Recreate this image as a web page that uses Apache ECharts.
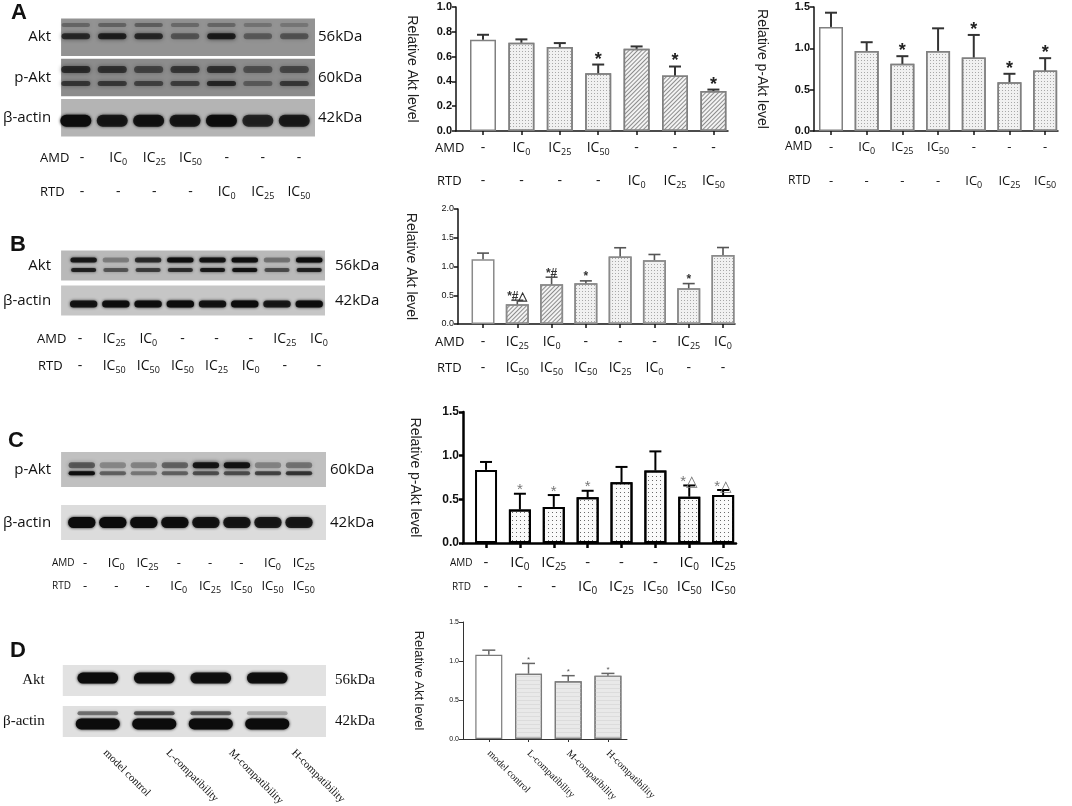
<!DOCTYPE html>
<html>
<head>
<meta charset="utf-8">
<script src="https://cdn.jsdelivr.net/npm/echarts@6/dist/echarts.min.js"></script>
<style>
  html, body { margin: 0; padding: 0; background: #fff; }
  #chart-container { width: 1072px; height: 806px; }
</style>
</head>
<body>
<div id="chart-container"></div>
<script>
// ---------- data ----------
// panel A (7 groups)
var amdA = ['-', 'IC0', 'IC25', 'IC50', '-', '-', '-'];
var rtdA = ['-', '-', '-', '-', 'IC0', 'IC25', 'IC50'];
var aktA = [0.736, 0.712, 0.677, 0.466, 0.663, 0.447, 0.323];
var aktAErr = [0.040, 0.027, 0.032, 0.070, 0.019, 0.073, 0.011];
var aktAMarks = ['', '', '', '*', '', '*', '*'];
var aktAFills = ['open', 'dot', 'dot', 'dot', 'hatch', 'hatch', 'hatch'];
var paktA = [1.259, 0.969, 0.812, 0.969, 0.889, 0.591, 0.732];
var paktAErr = [0.172, 0.105, 0.093, 0.273, 0.273, 0.101, 0.149];
var paktAMarks = ['', '', '*', '', '*', '*', '*'];
var paktAFills = ['open', 'dot', 'dot', 'dot', 'dot', 'dot', 'dot'];
var stripsA = ['Akt', 'p-Akt', 'β-actin'];
var kdaA = ['56kDa', '60kDa', '42kDa'];
var bandA_aktUpper = [0.30, 0.32, 0.35, 0.28, 0.30, 0.22, 0.20];
var bandA_aktMain = [0.70, 0.78, 0.72, 0.42, 0.82, 0.38, 0.42];
var bandA_paktUpper = [0.68, 0.62, 0.50, 0.58, 0.62, 0.42, 0.48];
var bandA_paktLower = [0.60, 0.58, 0.52, 0.55, 0.72, 0.35, 0.58];
var bandA_actin = [1.00, 0.85, 0.90, 0.85, 0.95, 0.75, 0.82];

// panel B (8 groups)
var amdB = ['-', 'IC25', 'IC0', '-', '-', '-', 'IC25', 'IC0'];
var rtdB = ['-', 'IC50', 'IC50', 'IC50', 'IC25', 'IC0', '-', '-'];
var aktB = [1.128, 0.343, 0.692, 0.709, 1.174, 1.110, 0.622, 1.200];
var aktBErr = [0.105, 0.070, 0.122, 0.041, 0.152, 0.099, 0.081, 0.130];
var aktBMarks = ['', '*#△', '*#', '*', '', '', '*', ''];
var aktBFills = ['open', 'hatch', 'hatch', 'dot', 'dot', 'dot', 'dot', 'dot'];
var stripsB = ['Akt', 'β-actin'];
var kdaB = ['56kDa', '42kDa'];
var bandB_aktUpper = [0.85, 0.30, 0.72, 0.95, 0.90, 0.95, 0.35, 1.00];
var bandB_aktLower = [0.80, 0.50, 0.62, 0.70, 0.85, 0.92, 0.55, 0.80];
var bandB_actin = [0.90, 0.95, 0.95, 1.00, 0.90, 1.00, 0.85, 0.95];

// panel C (8 groups)
var amdC = ['-', 'IC0', 'IC25', '-', '-', '-', 'IC0', 'IC25'];
var rtdC = ['-', '-', '-', 'IC0', 'IC25', 'IC50', 'IC50', 'IC50'];
var paktC = [0.837, 0.383, 0.413, 0.523, 0.697, 0.830, 0.530, 0.549];
var paktCErr = [0.091, 0.181, 0.136, 0.075, 0.174, 0.219, 0.129, 0.058];
var paktCMarks = ['', '*', '*', '*', '', '', '*△', '*△'];
var paktCFills = ['open', 'dot', 'dot', 'dot', 'dot', 'dot', 'dot', 'dot'];
var stripsC = ['p-Akt', 'β-actin'];
var kdaC = ['60kDa', '42kDa'];
var bandC_paktUpper = [0.50, 0.28, 0.30, 0.45, 0.90, 0.92, 0.30, 0.38];
var bandC_paktLower = [0.95, 0.45, 0.35, 0.45, 0.55, 0.55, 0.60, 0.68];
var bandC_actin = [1.00, 1.00, 0.98, 0.95, 0.90, 0.88, 0.85, 0.85];

// panel D (4 groups)
var groupsD = ['model control', 'L-compatibility', 'M-compatibility', 'H-compatibility'];
var aktD = [1.079, 0.837, 0.739, 0.812];
var aktDErr = [0.060, 0.132, 0.073, 0.029];
var aktDMarks = ['', '*', '*', '*'];
var aktDFills = ['open', 'light', 'light', 'light'];
var stripsD = ['Akt', 'β-actin'];
var kdaD = ['56kDa', '42kDa'];
var bandD_akt = [1.00, 0.95, 0.92, 0.95];
var bandD_actinUpper = [0.45, 0.60, 0.55, 0.25];
var bandD_actinLower = [1.00, 1.00, 1.00, 1.00];

// ---------- builders ----------
var chartDom = document.getElementById('chart-container');
var myChart = echarts.init(chartDom);
var grids = [], xAxes = [], yAxes = [], series = [], graphics = [];

var SANS = '"Liberation Sans", Arial, sans-serif';
var CAL = '"Open Sans", "Noto Sans", sans-serif';
var SERIF = '"Liberation Serif", "Times New Roman", serif';

function icRich(size, sub, family) {
  return {
    b: { fontSize: size, fontFamily: family, color: '#111', lineHeight: size + 4 },
    s: { fontSize: sub, fontFamily: family, color: '#111', lineHeight: sub + 1, verticalAlign: 'bottom' }
  };
}
function icText(label) {
  var m = /^IC(\d+)$/.exec(label);
  return m ? '{b|IC}{s|' + m[1] + '}' : '{b|' + label + '}';
}
function addText(text, x, y, font, align) {
  graphics.push({
    type: 'text', x: x, y: y, silent: true,
    style: { text: text, font: font, fill: '#111', align: align || 'left', verticalAlign: 'middle',
      textAlign: align || 'left', textVerticalAlign: 'middle' }
  });
}

function addBlot(cfg) {
  var gi = grids.length;
  grids.push({ left: cfg.left, top: cfg.top, width: cfg.width, height: cfg.height });
  var xi = xAxes.length;
  xAxes.push({ gridIndex: gi, type: 'value', min: cfg.min, max: cfg.max, show: false });
  var yi = yAxes.length;
  var lab = { fontSize: cfg.font, fontFamily: cfg.family, color: '#111' };
  yAxes.push({ gridIndex: gi, type: 'category', inverse: true, data: cfg.strips,
    axisLine: { show: false }, axisTick: { show: false },
    axisLabel: Object.assign({ margin: cfg.leftMargin }, lab) });
  yAxes.push({ gridIndex: gi, type: 'category', inverse: true, position: 'right', data: cfg.kda,
    axisLine: { show: false }, axisTick: { show: false },
    axisLabel: Object.assign({ margin: cfg.rightMargin }, lab) });
  series.push({
    type: 'custom', xAxisIndex: xi, yAxisIndex: yi, silent: true,
    data: cfg.strips.map(function (s, k) { return [0, k]; }),
    renderItem: function (params, api) {
      var k = api.value(1);
      var c = api.coord([0, k]);
      var cs = params.coordSys;
      var h = cfg.stripHeight;
      return { type: 'rect', shape: { x: cs.x, y: c[1] - h / 2, width: cs.width, height: h },
        style: { fill: cfg.stripColors[k] } };
    }
  });
  cfg.bands.forEach(function (b) {
    series.push({
      type: 'custom', xAxisIndex: xi, yAxisIndex: yi, silent: true,
      data: b.values.map(function (v, i) { return [i, b.strip, v]; }),
      renderItem: function (params, api) {
        var c = api.coord([api.value(0), api.value(1)]);
        var band = api.size([0, 1])[1];
        var lane = api.size([1, 0])[0];
        var w = lane * b.w, h = b.h;
        var y = c[1] + b.dy * band;
        var col = 'rgba(12,12,12,' + api.value(2) + ')';
        return { type: 'rect', shape: { x: c[0] - w / 2, y: y - h / 2, width: w, height: h, r: h / 2 },
          style: { fill: col, shadowBlur: b.blur, shadowColor: col } };
      }
    });
  });
}

function addLaneLabels(cfg) {
  var gi = grids.length;
  var y0 = cfg.rows[0].y - 1;
  grids.push({ left: cfg.left, top: y0 - 1, width: cfg.width, height: 1 });
  yAxes.push({ gridIndex: gi, type: 'value', show: false });
  cfg.rows.forEach(function (row) {
    xAxes.push({ gridIndex: gi, type: 'category', data: row.labels, position: 'bottom',
      axisLine: { show: false }, axisTick: { show: false }, splitLine: { show: false },
      axisLabel: { interval: 0, margin: row.y - y0, verticalAlign: 'middle', rotate: cfg.rotate || 0,
        formatter: icText, rich: cfg.rich } });
  });
}

function fillStyle(kind, cfg) {
  var s = { color: '#fff', borderColor: cfg.barBorder, borderWidth: cfg.barBorderWidth };
  if (kind === 'dot') {
    s.color = cfg.dotBg;
    s.decal = { symbol: 'rect', symbolSize: 1, dashArrayX: [1, cfg.dotGap], dashArrayY: [1, cfg.dotGap], color: cfg.dotColor };
  } else if (kind === 'hatch') {
    s.color = '#f3f3f3';
    s.decal = { symbol: 'rect', symbolSize: 1, dashArrayX: [1, 0], dashArrayY: [1, 2], rotation: -Math.PI / 4, color: '#8c8c8c' };
  } else if (kind === 'light') {
    s.color = '#e9e9e9';
    s.decal = { symbol: 'rect', symbolSize: 1, dashArrayX: [1, 0], dashArrayY: [1, 3], color: '#dcdcdc' };
  }
  return s;
}

function addBarChart(cfg) {
  var gi = grids.length;
  grids.push({ left: cfg.left, top: cfg.top, width: cfg.width, height: cfg.height });
  var idx = cfg.values.map(function (v, i) { return i; });
  var axisLs = { color: cfg.axisColor, width: cfg.axisWidth };
  var xi = xAxes.length;
  cfg.rows.forEach(function (row, r) {
    xAxes.push({
      gridIndex: gi, type: 'value', min: cfg.xMin, max: cfg.xMax, position: 'bottom',
      axisLine: { show: r === 0, onZero: false, lineStyle: axisLs },
      axisTick: { show: r === 0, customValues: idx, length: cfg.tickLen, lineStyle: axisLs },
      splitLine: { show: false },
      axisLabel: { customValues: idx, margin: row.margin, verticalAlign: 'middle', rotate: cfg.rotate || 0,
        formatter: function (v) { return icText(row.labels[v]); }, rich: cfg.rich }
    });
  });
  var yi = yAxes.length;
  yAxes.push({
    gridIndex: gi, type: 'value', min: 0, max: cfg.yMax, interval: cfg.yStep,
    name: cfg.yName, nameLocation: 'middle', nameRotate: -90, nameGap: cfg.nameGap,
    nameTextStyle: { fontFamily: SANS, fontSize: cfg.nameSize, color: '#222' },
    axisLine: { show: true, onZero: false, lineStyle: axisLs },
    axisTick: { show: true, length: 4, lineStyle: axisLs },
    splitLine: { show: false },
    axisLabel: { formatter: function (v) { return v.toFixed(1); }, margin: 4,
      fontFamily: SANS, fontSize: cfg.tickSize, fontWeight: cfg.tickWeight, color: '#111' }
  });
  series.push({
    type: 'bar', xAxisIndex: xi, yAxisIndex: yi, barWidth: cfg.barWidth, silent: true,
    data: cfg.values.map(function (v, i) { return { value: [i, v], itemStyle: fillStyle(cfg.fills[i], cfg) }; })
  });
  series.push({
    type: 'custom', xAxisIndex: xi, yAxisIndex: yi, silent: true, z: 3,
    data: cfg.values.map(function (v, i) { return [i, v, cfg.errs[i]]; }),
    renderItem: function (params, api) {
      var i = api.value(0), v = api.value(1), e = api.value(2);
      var p0 = api.coord([i, v]), p1 = api.coord([i, v + e]);
      var half = cfg.capWidth / 2;
      var ls = { stroke: cfg.errColor, lineWidth: cfg.errWidth };
      var children = [
        { type: 'line', shape: { x1: p0[0], y1: p0[1], x2: p1[0], y2: p1[1] }, style: ls },
        { type: 'line', shape: { x1: p1[0] - half, y1: p1[1], x2: p1[0] + half, y2: p1[1] }, style: ls }
      ];
      var mark = cfg.marks[params.dataIndex];
      if (mark) {
        children.push({ type: 'text', x: p1[0], y: p1[1] + cfg.markShift,
          style: { text: mark, font: cfg.markFont, fill: cfg.markColor, align: 'center', verticalAlign: 'bottom',
            textAlign: 'center', textVerticalAlign: 'bottom' } });
      }
      return { type: 'group', children: children };
    }
  });
}

// ---------- panel A ----------
addText('A', 11, 13, 'bold 22px ' + SANS);
addBlot({
  left: 57, top: 17, width: 258, height: 121, min: -0.405, max: 6.57,
  strips: stripsA, kda: kdaA, font: 15, family: CAL, leftMargin: 10, rightMargin: 3,
  stripHeight: 37.5, stripColors: ['#939393', '#8c8c8c', '#b4b4b4'],
  bands: [
    { values: bandA_aktUpper, strip: 0, dy: -0.30, h: 4, w: 0.78, blur: 4 },
    { values: bandA_aktMain, strip: 0, dy: -0.02, h: 6, w: 0.78, blur: 4 },
    { values: bandA_paktUpper, strip: 1, dy: -0.20, h: 7, w: 0.8, blur: 4 },
    { values: bandA_paktLower, strip: 1, dy: 0.15, h: 5, w: 0.8, blur: 4 },
    { values: bandA_actin, strip: 2, dy: 0.07, h: 12, w: 0.85, blur: 3 }
  ]
});
addText('AMD', 40, 158, '13px ' + CAL);
addText('RTD', 40, 192, '13px ' + CAL);
addLaneLabels({ left: 64, width: 253, rich: icRich(14, 9, CAL),
  rows: [{ labels: amdA, y: 158 }, { labels: rtdA, y: 192 }] });

var styleA = {
  barBorder: '#808080', barBorderWidth: 1.5, dotBg: '#f1f1f1', dotColor: '#a8a8a8', dotGap: 2,
  axisColor: '#111', axisWidth: 1.5, tickLen: 4, tickSize: 11, tickWeight: 'bold', nameSize: 14,
  capWidth: 12, errColor: '#333', errWidth: 2, markFont: 'bold 18px ' + SANS, markColor: '#222', markShift: 4,
  rich: icRich(14, 9, CAL)
};
addBarChart(Object.assign({}, styleA, {
  left: 456, top: 7, width: 272, height: 124, xMin: -0.703, xMax: 6.38, yMax: 1, yStep: 0.2,
  barWidth: 26, yName: 'Relative Akt level', nameGap: 37,
  values: aktA, errs: aktAErr, marks: aktAMarks, fills: aktAFills,
  rows: [{ labels: amdA, margin: 17 }, { labels: rtdA, margin: 50 }]
}));
addText('AMD', 435, 148, '13px ' + CAL);
addText('RTD', 437, 181, '13px ' + CAL);

addBarChart(Object.assign({}, styleA, {
  left: 814, top: 7, width: 244, height: 124, xMin: -0.476, xMax: 6.36, yMax: 1.5, yStep: 0.5,
  barWidth: 24, yName: 'Relative p-Akt level', nameGap: 45,
  values: paktA, errs: paktAErr, marks: paktAMarks, fills: paktAFills,
  rows: [{ labels: amdA, margin: 16 }, { labels: rtdA, margin: 50 }],
  rich: icRich(13, 9, CAL)
}));
addText('AMD', 785, 147, '12px ' + CAL);
addText('RTD', 788, 181, '12px ' + CAL);

// ---------- panel B ----------
addText('B', 10, 245, 'bold 22px ' + SANS);
addBlot({
  left: 57, top: 248, width: 268, height: 70, min: -0.70, max: 7.49,
  strips: stripsB, kda: kdaB, font: 15, family: CAL, leftMargin: 10, rightMargin: 10,
  stripHeight: 30, stripColors: ['#b9b9b9', '#c6c6c6'],
  bands: [
    { values: bandB_aktUpper, strip: 0, dy: -0.16, h: 5, w: 0.82, blur: 3 },
    { values: bandB_aktLower, strip: 0, dy: 0.13, h: 4, w: 0.78, blur: 3 },
    { values: bandB_actin, strip: 1, dy: 0.10, h: 7, w: 0.85, blur: 3 }
  ]
});
addText('AMD', 37, 339, '13px ' + CAL);
addText('RTD', 38, 366, '13px ' + CAL);
addLaneLabels({ left: 63, width: 273, rich: icRich(14, 9, CAL),
  rows: [{ labels: amdB, y: 339 }, { labels: rtdB, y: 366 }] });

addBarChart(Object.assign({}, styleA, {
  left: 458, top: 209, width: 277, height: 115, xMin: -0.73, xMax: 7.35, yMax: 2, yStep: 0.5,
  barWidth: 23, yName: 'Relative Akt level', nameGap: 40, tickSize: 9, tickWeight: 'normal',
  barBorder: '#8a8a8a', errColor: '#555', errWidth: 1.6, markFont: 'bold 12px ' + SANS, markColor: '#333', markShift: 2,
  values: aktB, errs: aktBErr, marks: aktBMarks, fills: aktBFills,
  rows: [{ labels: amdB, margin: 18 }, { labels: rtdB, margin: 44 }]
}));
addText('AMD', 435, 342, '13px ' + CAL);
addText('RTD', 437, 368, '13px ' + CAL);

// ---------- panel C ----------
addText('C', 8, 441, 'bold 22px ' + SANS);
addBlot({
  left: 57, top: 443, width: 269, height: 106, min: -0.667, max: 7.87,
  strips: stripsC, kda: kdaC, font: 15, family: CAL, leftMargin: 10, rightMargin: 4,
  stripHeight: 35, stripColors: ['#c0c0c0', '#dcdcdc'],
  bands: [
    { values: bandC_paktUpper, strip: 0, dy: -0.08, h: 6, w: 0.85, blur: 4 },
    { values: bandC_paktLower, strip: 0, dy: 0.07, h: 4, w: 0.85, blur: 3 },
    { values: bandC_actin, strip: 1, dy: 0.0, h: 11, w: 0.88, blur: 3 }
  ]
});
addText('AMD', 52, 563, '10px ' + CAL);
addText('RTD', 52, 586, '10px ' + CAL);
addLaneLabels({ left: 69.4, width: 250, rich: icRich(13, 9, CAL),
  rows: [{ labels: amdC, y: 563 }, { labels: rtdC, y: 586 }] });

addBarChart(Object.assign({}, styleA, {
  left: 463, top: 412, width: 273, height: 131, xMin: -0.68, xMax: 7.38, yMax: 1.5, yStep: 0.5,
  barWidth: 22, yName: 'Relative p-Akt level', nameGap: 41, tickSize: 12,
  barBorder: '#000', barBorderWidth: 2, dotBg: '#fafafa', dotColor: '#6a6a6a', dotGap: 3,
  axisColor: '#000', axisWidth: 2.5, tickLen: 5, errColor: '#000', errWidth: 2,
  markFont: '15px ' + SANS, markColor: '#777', markShift: 4,
  values: paktC, errs: paktCErr, marks: paktCMarks, fills: paktCFills,
  rows: [{ labels: amdC, margin: 20 }, { labels: rtdC, margin: 44 }],
  rich: icRich(15, 10, CAL)
}));
addText('AMD', 450, 563, '10px ' + CAL);
addText('RTD', 452, 587, '10px ' + CAL);

// ---------- panel D ----------
addText('D', 10, 651, 'bold 22px ' + SANS);
addBlot({
  left: 57, top: 660, width: 269, height: 82, min: -0.62, max: 4.04,
  strips: stripsD, kda: kdaD, font: 15, family: SERIF, leftMargin: 18, rightMargin: 9,
  stripHeight: 31, stripColors: ['#e2e2e2', '#e0e0e0'],
  bands: [
    { values: bandD_akt, strip: 0, dy: -0.06, h: 11, w: 0.72, blur: 3 },
    { values: bandD_actinUpper, strip: 1, dy: -0.20, h: 4, w: 0.72, blur: 3 },
    { values: bandD_actinLower, strip: 1, dy: 0.06, h: 11, w: 0.78, blur: 3 }
  ]
});
addLaneLabels({ left: 73.6, width: 251, rotate: -45, rich: icRich(11, 8, SERIF),
  rows: [{ labels: groupsD, y: 752 }] });

addBarChart(Object.assign({}, styleA, {
  left: 463, top: 622, width: 164, height: 117, xMin: -0.65, xMax: 3.48, yMax: 1.5, yStep: 0.5,
  barWidth: 27, yName: 'Relative Akt level', nameGap: 38, tickSize: 7, tickWeight: 'normal', nameSize: 13,
  barBorder: '#7a7a7a', barBorderWidth: 1.2, axisColor: '#333', axisWidth: 1, tickLen: 3,
  errColor: '#666', errWidth: 1.5, capWidth: 13, markFont: '8px ' + SANS, markColor: '#555', markShift: 0,
  values: aktD, errs: aktDErr, marks: aktDMarks, fills: aktDFills, rotate: -45,
  rows: [{ labels: groupsD, margin: 13 }],
  rich: icRich(10, 7, SERIF)
}));

var option = {
  animation: false,
  backgroundColor: '#fff',
  grid: grids,
  xAxis: xAxes,
  yAxis: yAxes,
  series: series,
  graphic: graphics
};
option && myChart.setOption(option);
</script>
</body>
</html>
